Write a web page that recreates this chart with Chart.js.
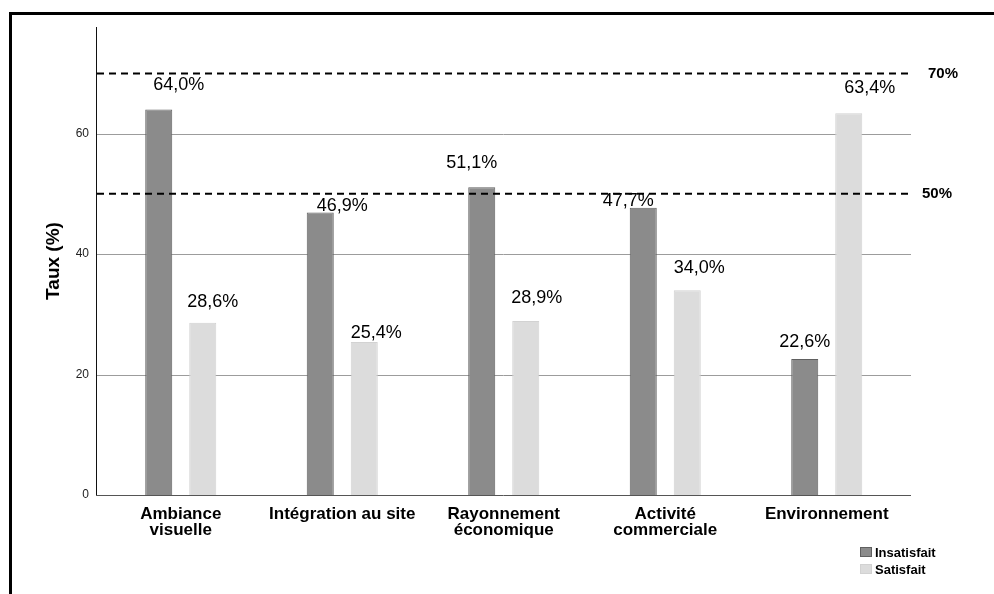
<!DOCTYPE html>
<html>
<head>
<meta charset="utf-8">
<script src="https://cdn.jsdelivr.net/npm/chart.js@4.4.1/dist/chart.umd.min.js"></script>
<style>
  html, body { margin: 0; padding: 0; background: #fff; }
  #wrap { width: 994px; height: 594px; }
</style>
</head>
<body>
<div id="wrap"><canvas id="graf"></canvas></div>
<script>
let categories = [['Ambiance', 'visuelle'], 'Intégration au site', ['Rayonnement', 'économique'], ['Activité', 'commerciale'], 'Environnement'];
let insatisfait = [64.0, 46.9, 51.1, 47.7, 22.6];
let satisfait = [28.6, 25.4, 28.9, 34.0, 63.4];
let seuils = [70, 50];
let graduations = [20, 40, 60];

// décalage (px) des étiquettes de valeur par rapport au haut de la barre
let decalInsat = [[20, -24], [22, -6], [-10, -24], [-15, -7], [0, -17]];
let decalSat = [[10, -21], [12, -9], [11, -23], [12, -22], [21, -25]];

let police = "'Liberation Sans', Arial, sans-serif";
let fmt = v => v.toFixed(1).replace('.', ',') + '%';

let decor = {
  id: 'decor',
  beforeDatasetsDraw(chart) {
    const { ctx, chartArea: a, scales: { y } } = chart;
    const x0 = a.left - 4, x1 = a.right + 3.5;
    ctx.save();
    // lignes de grille
    ctx.strokeStyle = '#9c9c9c';
    ctx.lineWidth = 1;
    graduations.forEach(v => {
      const py = Math.round(y.getPixelForValue(v)) + 0.5;
      ctx.beginPath(); ctx.moveTo(x0, py); ctx.lineTo(x1, py); ctx.stroke();
    });
    ctx.restore();
  },
  afterDatasetsDraw(chart) {
    const { ctx, chartArea: a, scales: { y } } = chart;
    const x0 = a.left - 4, x1 = a.right + 3.5;
    ctx.save();

    // axes
    ctx.strokeStyle = '#111';
    ctx.lineWidth = 1;
    ctx.beginPath();
    ctx.moveTo(x0 + 0.5, a.top); ctx.lineTo(x0 + 0.5, a.bottom);
    ctx.stroke();
    ctx.strokeStyle = '#555';
    ctx.beginPath();
    ctx.moveTo(x0, Math.round(a.bottom) + 0.5); ctx.lineTo(x1, Math.round(a.bottom) + 0.5);
    ctx.stroke();

    // seuils en pointillés
    ctx.strokeStyle = '#000';
    ctx.lineWidth = 2;
    ctx.setLineDash([7, 5]);
    ctx.font = 'bold 15px ' + police;
    ctx.fillStyle = '#000';
    ctx.textBaseline = 'middle';
    seuils.forEach((v, i) => {
      const py = y.getPixelForValue(v);
      ctx.beginPath(); ctx.moveTo(x0 + 1, py); ctx.lineTo(x1 - 1, py); ctx.stroke();
      ctx.textAlign = 'left';
      ctx.fillText(v + '%', x1 + (i === 0 ? 17 : 11), py);
    });
    ctx.setLineDash([]);

    // étiquettes de valeur
    ctx.font = '18px ' + police;
    ctx.textAlign = 'center';
    ctx.textBaseline = 'middle';
    const decals = [decalInsat, decalSat];
    chart.data.datasets.forEach((ds, d) => {
      chart.getDatasetMeta(d).data.forEach((bar, i) => {
        const [dx, dy] = decals[d][i];
        ctx.fillText(fmt(ds.data[i]), bar.x + dx, bar.y + dy);
      });
    });

    // légende
    ctx.font = 'bold 13px ' + police;
    ctx.textAlign = 'left';
    chart.data.datasets.forEach((ds, d) => {
      const top = 547 + d * 17;
      ctx.fillStyle = ds.backgroundColor;
      ctx.fillRect(860, top, 12, 10);
      ctx.strokeStyle = ds.borderColor;
      ctx.lineWidth = 1;
      ctx.strokeRect(860.5, top + 0.5, 11, 9);
      ctx.fillStyle = '#000';
      ctx.fillText(ds.label, 875, top + 6);
    });

    // cadre
    ctx.strokeStyle = '#000';
    ctx.lineWidth = 3;
    ctx.beginPath();
    ctx.moveTo(10.5, chart.height); ctx.lineTo(10.5, 13.5); ctx.lineTo(chart.width, 13.5);
    ctx.stroke();
    ctx.restore();
  }
};

let config = {
  type: 'bar',
  data: {
    labels: categories,
    datasets: [
      {
        label: 'Insatisfait',
        data: insatisfait,
        backgroundColor: '#8b8b8b',
        borderColor: '#606060',
        borderWidth: 1,
        categoryPercentage: 0.545,
        barPercentage: 0.614
      },
      {
        label: 'Satisfait',
        data: satisfait,
        backgroundColor: '#dcdcdc',
        borderColor: '#d2d2d2',
        borderWidth: 1,
        categoryPercentage: 0.545,
        barPercentage: 0.614
      }
    ]
  },
  options: {
    responsive: true,
    maintainAspectRatio: false,
    animation: false,
    layout: { padding: { left: 0, right: 86.5, top: 27, bottom: 0 } },
    plugins: {
      legend: { display: false },
      tooltip: { enabled: false }
    },
    scales: {
      x: {
        grid: { display: false, drawTicks: false },
        border: { display: false },
        ticks: {
          color: '#000',
          padding: 11,
          maxRotation: 0,
          autoSkip: false,
          font: { family: police, size: 17, weight: 'bold', lineHeight: 0.97 }
        },
        afterFit: s => { s.height = 99; }
      },
      y: {
        min: 0,
        max: 77.7,
        grid: { display: false, drawTicks: false },
        border: { display: false },
        ticks: {
          stepSize: 20,
          includeBounds: false,
          color: '#222',
          padding: 11,
          font: { family: police, size: 12 }
        },
        title: {
          display: true,
          text: 'Taux (%)',
          color: '#000',
          padding: { top: 42, bottom: 0 },
          font: { family: police, size: 19, weight: 'bold' }
        },
        afterFit: s => { s.width = 100; }
      }
    }
  },
  plugins: [decor]
};

let graf = new Chart(document.getElementById('graf'), config);
</script>
</body>
</html>
